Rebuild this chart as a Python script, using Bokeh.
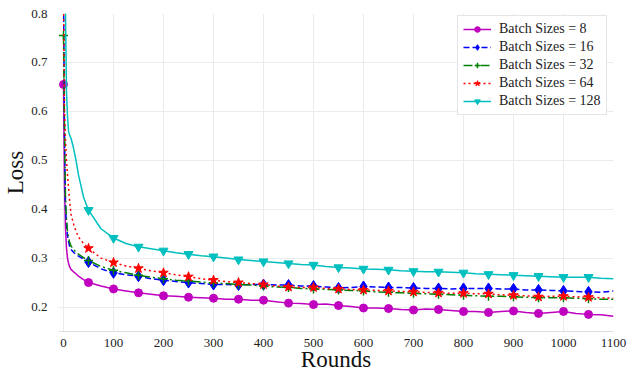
from bokeh.plotting import figure
from bokeh.models import Range1d, FixedTicker, Legend, LegendItem
from bokeh.embed import file_html
from bokeh.resources import INLINE

rounds = [0, 2, 4, 6, 8, 10, 12, 15, 20, 25, 30, 40, 50, 75, 100, 125, 150, 175, 200, 225, 250, 275,
          300, 325, 350, 375, 400, 425, 450, 475, 500, 525, 550, 575, 600, 625, 650, 675, 700, 725,
          750, 775, 800, 825, 850, 875, 900, 925, 950, 975, 1000, 1025, 1050, 1075, 1100]

loss_8 = [0.655, 0.45, 0.36, 0.32, 0.30, 0.29, 0.283, 0.277, 0.272, 0.268, 0.263, 0.256, 0.250,
          0.243, 0.237, 0.233, 0.229, 0.226, 0.223, 0.222, 0.220, 0.219, 0.218, 0.216, 0.216, 0.214,
          0.214, 0.211, 0.208, 0.207, 0.205, 0.206, 0.203, 0.201, 0.198, 0.198, 0.197, 0.195, 0.194,
          0.196, 0.195, 0.193, 0.191, 0.191, 0.189, 0.191, 0.192, 0.189, 0.187, 0.189, 0.191, 0.187,
          0.185, 0.184, 0.181]
loss_16 = [0.85, 0.55, 0.405, 0.37, 0.345, 0.335, 0.325, 0.318, 0.312, 0.307, 0.304, 0.298, 0.292,
           0.278, 0.270, 0.266, 0.263, 0.258, 0.255, 0.252, 0.250, 0.248, 0.246, 0.246, 0.245, 0.246,
           0.246, 0.245, 0.245, 0.243, 0.243, 0.241, 0.239, 0.240, 0.242, 0.241, 0.240, 0.240, 0.239,
           0.238, 0.238, 0.237, 0.238, 0.238, 0.238, 0.237, 0.237, 0.235, 0.235, 0.234, 0.233, 0.232,
           0.231, 0.230, 0.233]
loss_32 = [0.755, 0.56, 0.42, 0.38, 0.355, 0.343, 0.333, 0.325, 0.318, 0.312, 0.308, 0.301, 0.295,
           0.283, 0.275, 0.270, 0.265, 0.261, 0.258, 0.255, 0.253, 0.251, 0.249, 0.248, 0.246, 0.245,
           0.243, 0.241, 0.240, 0.238, 0.237, 0.236, 0.235, 0.234, 0.233, 0.231, 0.230, 0.229, 0.228,
           0.227, 0.226, 0.225, 0.224, 0.223, 0.222, 0.222, 0.221, 0.220, 0.219, 0.219, 0.219, 0.218,
           0.217, 0.216, 0.216]
loss_64 = [0.85, 0.60, 0.54, 0.50, 0.47, 0.445, 0.42, 0.39, 0.37, 0.355, 0.343, 0.33, 0.320,
           0.300, 0.291, 0.284, 0.279, 0.274, 0.270, 0.266, 0.262, 0.258, 0.255, 0.252, 0.250, 0.248,
           0.246, 0.243, 0.241, 0.240, 0.240, 0.238, 0.237, 0.236, 0.235, 0.234, 0.233, 0.232, 0.231,
           0.230, 0.229, 0.228, 0.228, 0.227, 0.227, 0.225, 0.224, 0.223, 0.221, 0.222, 0.222, 0.221,
           0.220, 0.219, 0.218]
loss_128 = [0.95, 0.90, 0.80, 0.64, 0.59, 0.56, 0.552, 0.545, 0.525, 0.50, 0.47, 0.425, 0.398,
            0.36, 0.341, 0.330, 0.323, 0.319, 0.315, 0.311, 0.308, 0.305, 0.303, 0.300, 0.297, 0.295,
            0.293, 0.291, 0.289, 0.287, 0.286, 0.283, 0.281, 0.280, 0.278, 0.277, 0.276, 0.274, 0.273,
            0.272, 0.272, 0.271, 0.270, 0.268, 0.267, 0.266, 0.265, 0.264, 0.263, 0.262, 0.261, 0.261,
            0.261, 0.259, 0.258]

labels = ["Batch Sizes = 8", "Batch Sizes = 16", "Batch Sizes = 32", "Batch Sizes = 64", "Batch Sizes = 128"]
x_ticks = [0, 100, 200, 300, 400, 500, 600, 700, 800, 900, 1000, 1100]
y_ticks = [0.2, 0.3, 0.4, 0.5, 0.6, 0.7, 0.8]

FONT = "Liberation Serif"

p = figure(width=628, height=375, output_backend="svg", toolbar_location=None,
           x_range=Range1d(-10, 1100), y_range=Range1d(0.15, 0.8),
           min_border_left=58, min_border_right=15, min_border_top=13, min_border_bottom=44)
p.outline_line_color = None
p.background_fill_color = "white"

series = [loss_8, loss_16, loss_32, loss_64, loss_128]
colors = ["#bf00bf", "#0000ff", "#008000", "#ff0000", "#00bfbf"]
dashes = ["solid", "6 3", "9 3 2 3", "2 3", "solid"]
markers = ["circle", "diamond", "cross", "star", "inverted_triangle"]
msizes = [8, 11, 9, 10, 9]

items = []
for vals, c, d, m, s, lab in zip(series, colors, dashes, markers, msizes, labels):
    ln = p.line(rounds, vals, line_color=c, line_width=1.5, line_dash=d)
    mx = [r for r in rounds if r % 50 == 0 and r <= 1050]
    my = [v for r, v in zip(rounds, vals) if r % 50 == 0 and r <= 1050]
    kw = dict(marker=m, size=s, color=c)
    if m == "cross":
        kw["line_width"] = 1.5
    sc = p.scatter(mx, my, **kw)
    items.append(LegendItem(label=lab, renderers=[ln, sc]))

legend = Legend(items=items, location=(399, 216), label_text_font=FONT,
                label_text_font_size="14px", label_text_color="#222222",
                label_height=14, glyph_height=14, glyph_width=28, label_standoff=8,
                spacing=2, padding=5, margin=0, border_line_color="#cccccc",
                border_line_width=1, background_fill_alpha=1.0)
p.add_layout(legend)

for ax, ticks in ((p.xaxis[0], x_ticks), (p.yaxis[0], y_ticks)):
    ax.ticker = FixedTicker(ticks=ticks)
    ax.major_tick_line_color = None
    ax.minor_tick_line_color = None
    ax.major_label_text_font = FONT
    ax.major_label_text_font_size = "13px"
    ax.major_label_text_color = "#222222"
    ax.axis_label_text_font = FONT
    ax.axis_label_text_font_size = "23px"
    ax.axis_label_text_font_style = "normal"
    ax.axis_label_text_color = "#111111"

p.xaxis.axis_label = "Rounds"
p.yaxis.axis_label = "Loss"
p.xaxis.axis_line_color = "#dddddd"
p.yaxis.axis_line_color = None
p.xaxis.axis_label_standoff = -3
p.yaxis.axis_label_standoff = 0
p.xaxis.major_label_standoff = 1
p.yaxis.major_label_standoff = 5
p.grid.grid_line_color = "#ebebeb"
p.grid.grid_line_width = 1

open("out.html", "w").write(file_html(p, INLINE))
